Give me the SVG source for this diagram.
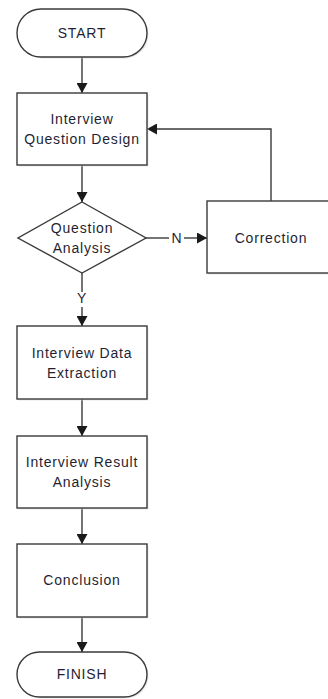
<svg xmlns="http://www.w3.org/2000/svg" width="328" height="699" viewBox="0 0 328 699">
<defs>
<style>
.shape{fill:#ffffff;stroke:#3a3a3a;stroke-width:1.4}
.shadow{fill:#d9d9d9;stroke:none;opacity:0.6}
.t{font-family:"Liberation Sans",Arial,sans-serif;font-size:14px;fill:#1f1f33;text-anchor:middle;letter-spacing:0.8px}
.edge{fill:none;stroke:#3a3a3a;stroke-width:1.4}
</style>
<marker id="arr" viewBox="0 0 10 11" refX="10" refY="5.5" markerWidth="11" markerHeight="11" markerUnits="userSpaceOnUse" orient="auto">
<path d="M0,0 L10,5.5 L0,11 Z" fill="#1a1a1a"/>
</marker>
</defs>
<rect width="328" height="699" fill="#ffffff"/>
<g id="connectors">
<line class="edge" x1="82" y1="57" x2="82" y2="93" marker-end="url(#arr)"/>
<line class="edge" x1="82" y1="165" x2="82" y2="202" marker-end="url(#arr)"/>
<line class="edge" x1="82" y1="273" x2="82" y2="292"/>
<line class="edge" x1="82" y1="307" x2="82" y2="326" marker-end="url(#arr)"/>
<line class="edge" x1="146" y1="238" x2="169" y2="238"/>
<line class="edge" x1="184" y1="238" x2="207" y2="238" marker-end="url(#arr)"/>
<polyline class="edge" points="271,201 271,129 147,129" marker-end="url(#arr)"/>
<line class="edge" x1="82" y1="399" x2="82" y2="436" marker-end="url(#arr)"/>
<line class="edge" x1="82" y1="508" x2="82" y2="544" marker-end="url(#arr)"/>
<line class="edge" x1="82" y1="617" x2="82" y2="652" marker-end="url(#arr)"/>
<text class="t" x="177" y="243">N</text>
<text class="t" x="82" y="303">Y</text>
</g>
<g id="start">
<rect class="shadow" x="18.5" y="10.5" width="130" height="48" rx="24"/>
<rect class="shape" x="17" y="9" width="130" height="48" rx="24"/>
<text class="t" x="82" y="38">START</text>
</g>
<g id="design">
<rect class="shadow" x="18.5" y="94.5" width="130" height="72"/>
<rect class="shape" x="17" y="93" width="130" height="72"/>
<text class="t" x="82" y="124">Interview</text>
<text class="t" x="82" y="144">Question Design</text>
</g>
<g id="analysis">
<polygon class="shape" points="82,202 146,238 82,273 18,238"/>
<text class="t" x="82" y="233">Question</text>
<text class="t" x="82" y="253">Analysis</text>
</g>
<g id="correction">
<rect class="shadow" x="208.5" y="202.5" width="128" height="72"/>
<rect class="shape" x="207" y="201" width="128" height="72"/>
<text class="t" x="271" y="243">Correction</text>
</g>
<g id="extraction">
<rect class="shadow" x="18.5" y="327.5" width="130" height="73"/>
<rect class="shape" x="17" y="326" width="130" height="73"/>
<text class="t" x="82" y="358">Interview Data</text>
<text class="t" x="82" y="378">Extraction</text>
</g>
<g id="result">
<rect class="shadow" x="18.5" y="437.5" width="130" height="72"/>
<rect class="shape" x="17" y="436" width="130" height="72"/>
<text class="t" x="82" y="467">Interview Result</text>
<text class="t" x="82" y="487">Analysis</text>
</g>
<g id="conclusion">
<rect class="shadow" x="18.5" y="545.5" width="130" height="73"/>
<rect class="shape" x="17" y="544" width="130" height="73"/>
<text class="t" x="82" y="585">Conclusion</text>
</g>
<g id="finish">
<rect class="shadow" x="18.5" y="653.5" width="130" height="45" rx="22.5"/>
<rect class="shape" x="17" y="652" width="130" height="45" rx="22.5"/>
<text class="t" x="82" y="679">FINISH</text>
</g>
</svg>
